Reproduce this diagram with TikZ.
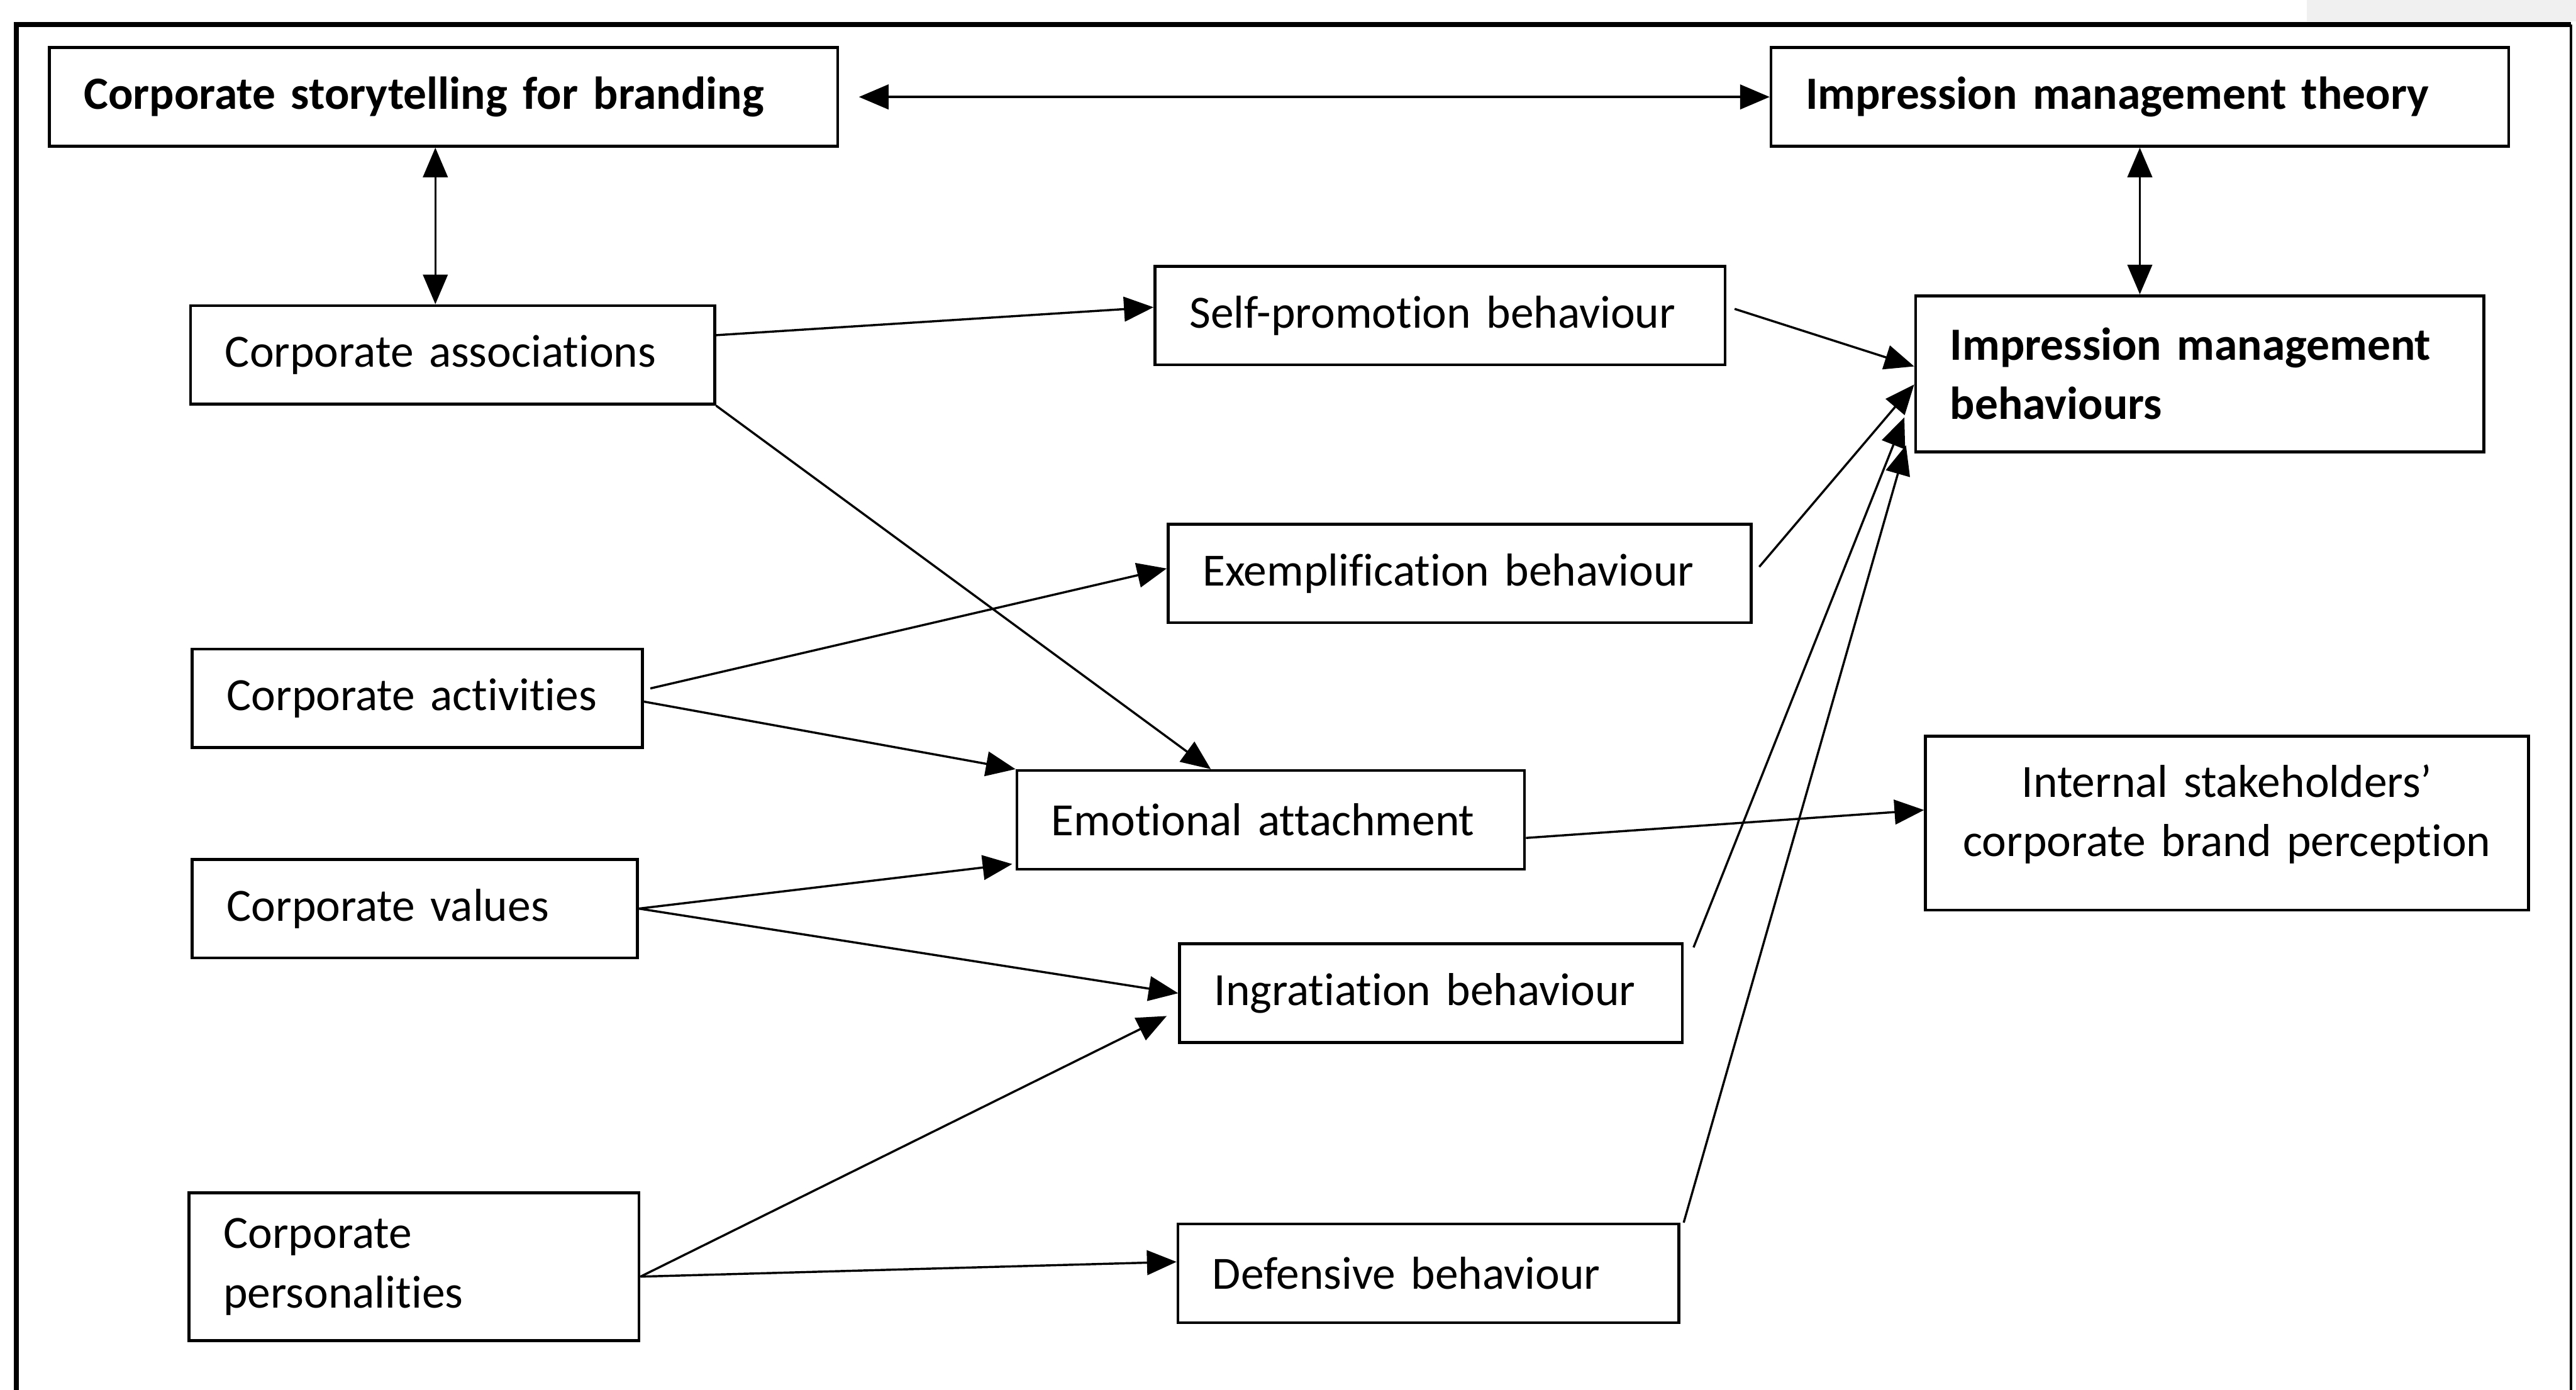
\documentclass[tikz,border=0pt]{standalone}
\usepackage{fontspec}
\setmainfont{Carlito}[Ligatures=NoCommon]
\usetikzlibrary{arrows.meta}

\begin{document}
\begin{tikzpicture}[x=0.02cm,y=-0.02cm,
  box/.style={draw,line width=1pt,inner xsep=0.42cm,align=left,minimum height=1.2cm,font=\fontsize{16}{20.5}\selectfont},
  boldbox/.style={box,font=\fontsize{16}{20.5}\selectfont\bfseries},
  arr/.style={-{Triangle[length=0.36cm,width=0.3cm]},line width=0.75pt},
  dblarr/.style={{Triangle[length=0.36cm,width=0.3cm]}-{Triangle[length=0.36cm,width=0.3cm]},line width=0.75pt}]
\useasboundingbox (0,0) rectangle (1568,846);
\fill[black!6] (1404,0) rectangle (1568,13);
\draw[line width=1.7pt] (10,846) -- (10,15) -- (1565,15);
\draw[line width=0.8pt] (1565,15) -- (1565,846);

\node[boldbox,text width=8.76cm] (story) at (270,59) {Corporate storytelling for branding};
\node[boldbox,text width=8.14cm] (imtheory) at (1302.5,59) {Impression management theory};
\node[box,text width=5.54cm] (assoc) at (275.5,216) {Corporate associations};
\node[box,text width=6.10cm] (selfpromo) at (876.5,192) {Self-promotion behaviour};
\node[boldbox,text width=6.08cm,minimum height=1.9cm] (imbeh) at (1339,227.5) {Impression management\\behaviours};
\node[box,text width=6.26cm] (exempl) at (888.5,349) {Exemplification behaviour};
\node[box,text width=4.64cm] (activ) at (254,425) {Corporate activities};
\node[box,text width=5.34cm] (emot) at (773.5,499) {Emotional attachment};
\node[box,text width=6.50cm,align=center,minimum height=2.12cm] (internal) at (1355.5,501) {Internal stakeholders’\\corporate brand perception\\[-0.41cm]\mbox{}};
\node[box,text width=4.58cm] (values) at (252.5,553) {Corporate values};
\node[box,text width=5.28cm] (ingrat) at (871,604.5) {Ingratiation behaviour};
\node[box,text width=4.64cm,minimum height=1.8cm] (person) at (252,771) {Corporate\\personalities};
\node[box,text width=5.26cm] (defens) at (869.5,775) {Defensive behaviour};

\draw[dblarr,shorten <=0.24cm] (story.east) -- (imtheory.west);
\draw[dblarr] ([xshift=-0.1cm]story.south) -- ([xshift=-0.1cm]story.south |- assoc.north);
\draw[dblarr] (imtheory.south) -- (imtheory.south |- imbeh.north);

\draw[arr] ([yshift=0.24cm]assoc.east) -- ([yshift=0.1cm]selfpromo.west);
\draw[arr] (assoc.south east) -- ([xshift=-0.73cm]emot.north);
\draw[arr] ([xshift=0.1cm,yshift=0.08cm]selfpromo.east) -- ([yshift=0.09cm]imbeh.west);
\draw[arr] ([xshift=0.08cm,yshift=0.08cm]exempl.east) -- ([yshift=-0.13cm]imbeh.west);
\draw[arr] ([xshift=0.12cm,yshift=-0.06cm]ingrat.north east) -- ([xshift=-0.12cm,yshift=-0.53cm]imbeh.west);
\draw[arr] ([xshift=0.04cm]defens.north east) -- ([xshift=-0.1cm,yshift=-0.87cm]imbeh.west);
\draw[arr] ([xshift=0.08cm,yshift=0.12cm]activ.east) -- ([yshift=0.06cm]exempl.west);
\draw[arr] ([yshift=-0.04cm]activ.east) -- (emot.north west);
\draw[arr] (values.east) -- ([xshift=-0.04cm,yshift=0.08cm]emot.south west);
\draw[arr] (values.east) -- (ingrat.west);
\draw[arr] ([yshift=-0.22cm]emot.east) -- ([yshift=0.16cm]internal.west);
\draw[arr] ([yshift=-0.12cm]person.east) -- ([xshift=-0.14cm,yshift=0.34cm]ingrat.south west);
\draw[arr] ([yshift=-0.12cm]person.east) -- ([yshift=0.14cm]defens.west);
\end{tikzpicture}
\end{document}
